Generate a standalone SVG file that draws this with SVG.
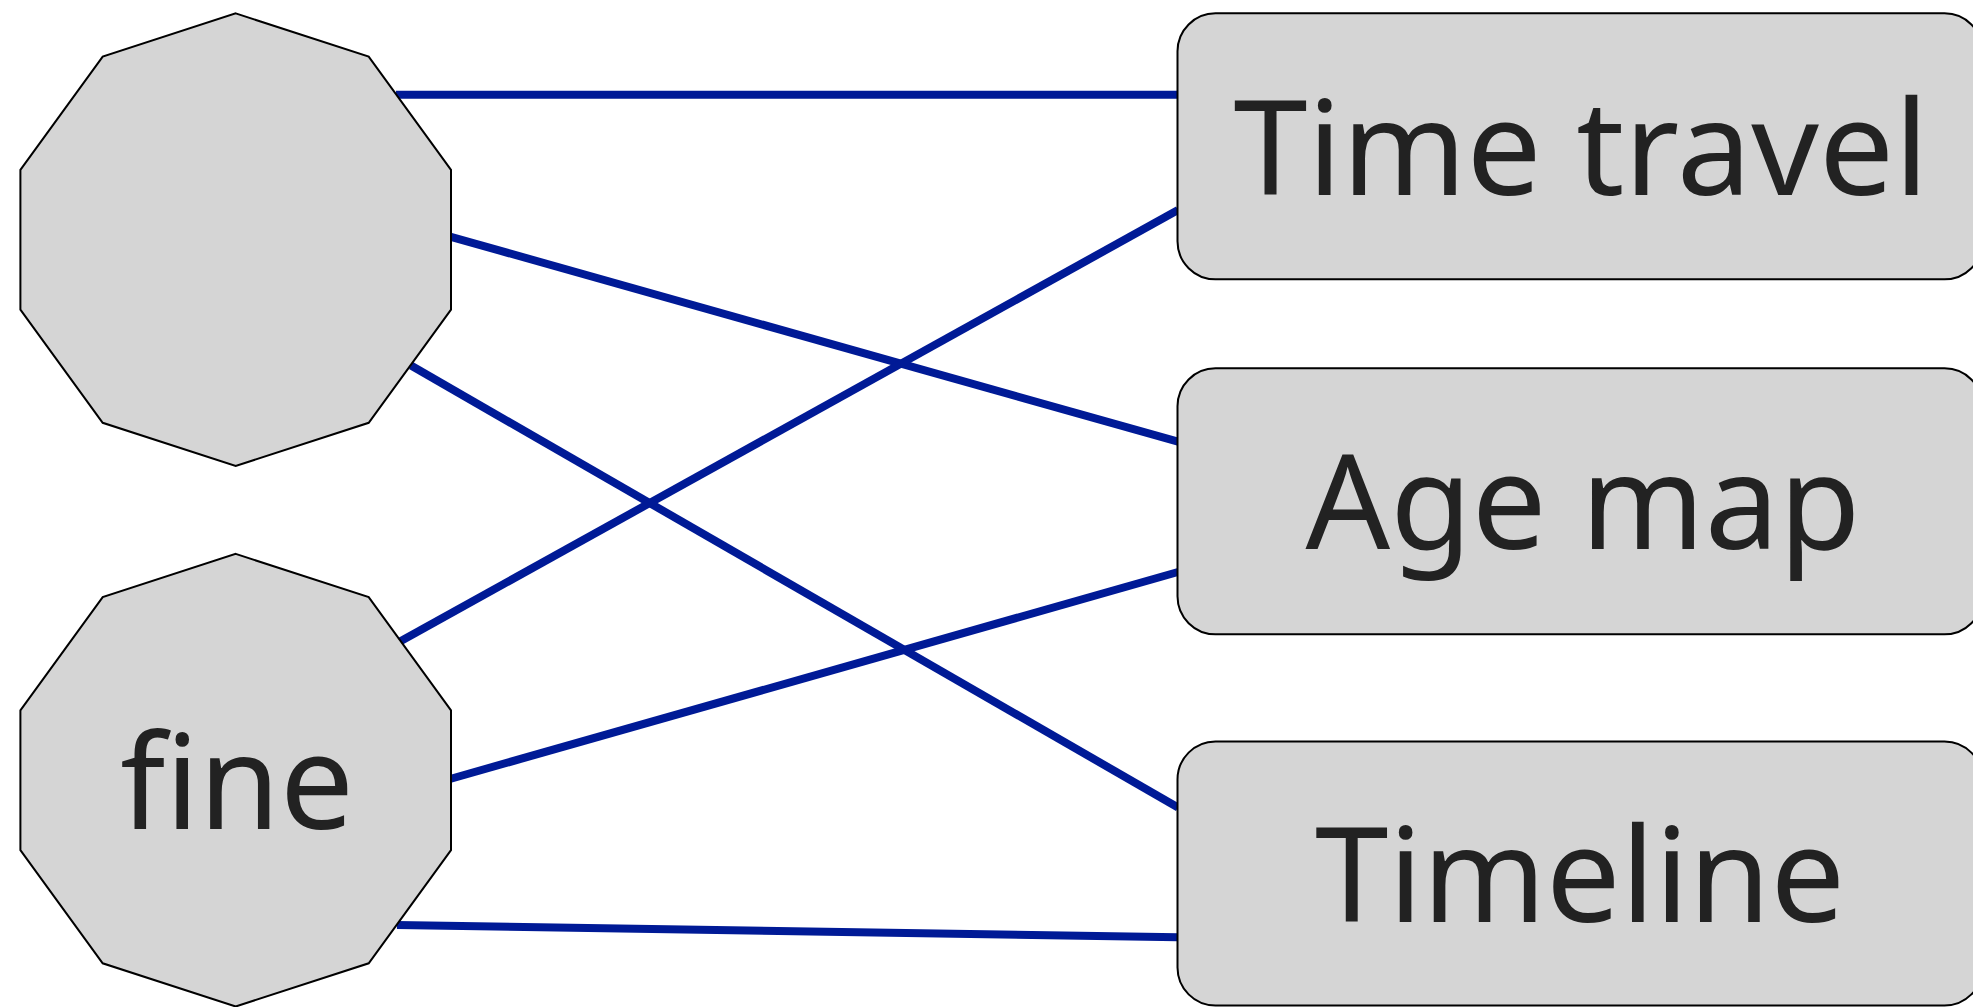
<svg xmlns="http://www.w3.org/2000/svg" width="1973" height="1007" viewBox="0 0 1973 1007">
<style>
.edge{stroke:#001a96;stroke-width:8;fill:none}
.node{fill:#d5d5d5;stroke:#000;stroke-width:2}
.lbl{font-family:"Noto Sans","Open Sans","DejaVu Sans",sans-serif;font-size:131px;fill:#222;text-anchor:middle;font-variant-ligatures:common-ligatures}
</style>
<rect width="1973" height="1007" fill="#fff"/>
<g id="connectors">
<line class="edge" x1="396" y1="94.7" x2="1178" y2="94.7"/>
<line class="edge" x1="450" y1="236.6" x2="1178" y2="441.7"/>
<line class="edge" x1="411" y1="365.5" x2="1178" y2="807.5"/>
<line class="edge" x1="400" y1="641.5" x2="1178" y2="210"/>
<line class="edge" x1="450" y1="779" x2="1178" y2="572"/>
<line class="edge" x1="397" y1="925" x2="1178" y2="937.3"/>
</g>
<g id="n1">
<polygon class="node" points="235.7,13.4 368.7,56.6 451,169.8 451,309.6 368.7,422.8 235.7,466 102.7,422.8 20.4,309.6 20.4,169.8 102.7,56.6"/>
</g>
<g id="n2">
<polygon class="node" points="235.7,553.9 368.7,597.1 451,710.3 451,850.1 368.7,963.3 235.7,1006.5 102.7,963.3 20.4,850.1 20.4,710.3 102.7,597.1"/>
<text class="lbl" x="237" y="829.3">fine</text>
</g>
<g id="n3">
<rect class="node" x="1177.5" y="13.3" width="805" height="266" rx="38" ry="38"/>
<text class="lbl" x="1581" y="195" textLength="695" lengthAdjust="spacingAndGlyphs">Time travel</text>
</g>
<g id="n4">
<rect class="node" x="1177.5" y="368.3" width="805" height="266" rx="38" ry="38"/>
<text class="lbl" x="1583" y="549.3" textLength="555" lengthAdjust="spacingAndGlyphs">Age map</text>
</g>
<g id="n5">
<rect class="node" x="1177.5" y="741.5" width="805" height="264" rx="38" ry="38"/>
<text class="lbl" x="1580" y="922.3" textLength="530" lengthAdjust="spacingAndGlyphs">Timeline</text>
</g>
</svg>
